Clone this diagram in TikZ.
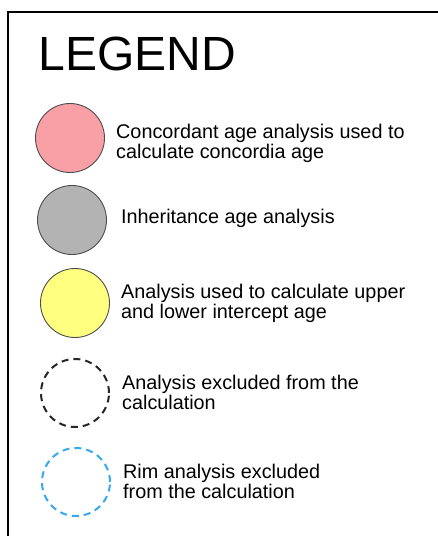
\documentclass[tikz,border=0pt]{standalone}
\usepackage{fontspec}
\setmainfont{Liberation Sans}
\definecolor{concpink}{HTML}{F9A0A6}
\definecolor{inhgray}{HTML}{B3B3B3}
\definecolor{intyellow}{HTML}{FFFF80}
\definecolor{rimblue}{HTML}{35AAEC}

\begin{document}
\begin{tikzpicture}[x=1pt, y=-1pt,
	spot/.style={circle, minimum size=69pt, inner sep=0pt, draw=black!70, line width=0.9pt},
	excl/.style={circle, minimum size=68pt, inner sep=0pt, dashed, dash pattern=on 7pt off 5pt, line width=2pt},
	entry/.style={anchor=base west, align=left, inner sep=0pt, font=\fontsize{19.8}{20}\selectfont}]
	\useasboundingbox (0,0) rectangle (437,536);
	\draw[line width=1.5pt] (8,545) -- (8,12) -- (445,12);
	\node[anchor=base west, inner sep=0pt, font=\fontsize{48}{52}\selectfont] (title) at (38.5,70) {LEGEND};
	% circles
	\node[spot, fill=concpink] (conc) at (70,138) {};
	\node[spot, fill=inhgray] (inh) at (72,220) {};
	\node[spot, fill=intyellow] (int) at (75,303) {};
	\node[excl, draw=black!85] (exc) at (75,393) {};
	\node[excl, draw=rimblue] (rim) at (76,482) {};
	% labels (base = last line)
	\node[entry] (concl) at (116,158) {Concordant age analysis used to\\calculate concordia age};
	\node[entry] (inhl) at (121,223) {Inheritance age analysis};
	\node[entry] (intl) at (121,318) {Analysis used to calculate upper\\and lower intercept age};
	\node[entry] (excl) at (122,409) {Analysis excluded from the\\calculation};
	\node[entry] (riml) at (123,498) {Rim analysis excluded\\from the calculation};
\end{tikzpicture}
\end{document}
